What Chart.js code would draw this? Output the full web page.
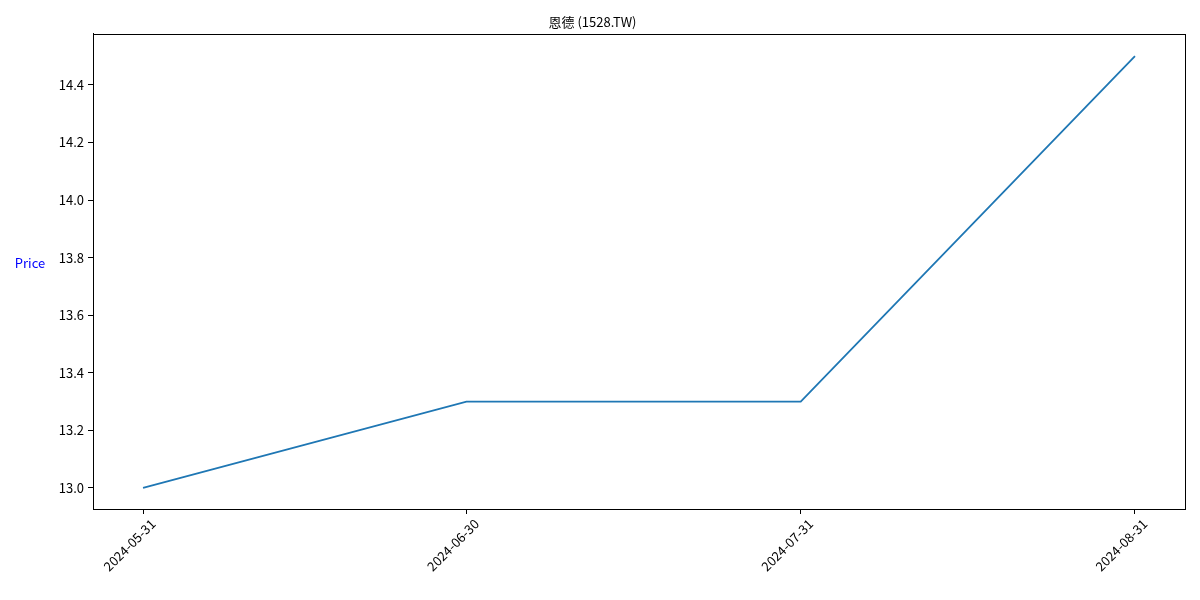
<!DOCTYPE html>
<html><head><meta charset="utf-8">
<script src="https://cdn.jsdelivr.net/npm/chart.js@4"></script>
<style>html,body{margin:0;background:#fff}#w{width:1200px;height:600px}</style>
</head><body><div id="w"><canvas id="c"></canvas></div>
<script>
const dates = ["2024-05-31","2024-06-30","2024-07-31","2024-08-31"];
const prices = [13.0, 13.3, 13.3, 14.5];
const yTicks = [13.0,13.2,13.4,13.6,13.8,14.0,14.2,14.4];
const day0 = Date.parse(dates[0]);
const dayNums = dates.map(d => Math.round((Date.parse(d)-day0)/86400000));
const FONT = "'Noto Sans CJK TC','Noto Sans',sans-serif";
const extras = {id:'ex', afterDraw(ch){const c=ch.ctx,a=ch.chartArea;c.save();
 c.strokeStyle='#000';c.lineWidth=1;c.strokeRect(Math.round(a.left)+0.5,Math.round(a.top)+0.5,Math.round(a.right-a.left),Math.round(a.bottom-a.top));
 c.font="13px "+FONT;c.fillStyle='blue';c.textAlign='center';c.textBaseline='middle';c.fillText('Price',30,263);c.restore();}};
const tickGrid = {display:true,drawOnChartArea:false,drawTicks:true,tickLength:5,color:'#000'};
new Chart(document.getElementById('c'),{
 type:'line',
 data:{datasets:[{data:dayNums.map((x,i)=>({x,y:prices[i]})),borderColor:'#1f77b4',borderWidth:1.8,pointRadius:0,tension:0,fill:false}]},
 options:{responsive:true,maintainAspectRatio:false,animation:false,
  layout:{padding:{right:15}},
  plugins:{legend:{display:false},tooltip:{enabled:false},
   title:{display:true,text:'恩德 (1528.TW)',color:'#000',font:{family:FONT,size:13,weight:'normal'},padding:{top:14,bottom:4}}},
  scales:{
   x:{type:'linear',min:-4.64,max:96.64,grid:tickGrid,border:{color:'#000'},
    afterBuildTicks(s){s.ticks=dayNums.map(v=>({value:v}));},
    afterFit(s){s.height=91;},
    ticks:{color:'#000',font:{family:FONT,size:13},minRotation:45,maxRotation:45,autoSkip:false,labelOffset:10,padding:2,
     callback:(v)=>{const i=dayNums.indexOf(v);return i>=0?dates[i]:'';}}},
   y:{min:12.927,max:14.578,grid:tickGrid,border:{color:'#000'},
    afterBuildTicks(s){s.ticks=yTicks.map(v=>({value:v}));},
    afterFit(s){s.width=93;},
    ticks:{color:'#000',font:{family:FONT,size:13},padding:4,callback:v=>v.toFixed(1)}}
  }},
 plugins:[extras]
});
</script></body></html>
